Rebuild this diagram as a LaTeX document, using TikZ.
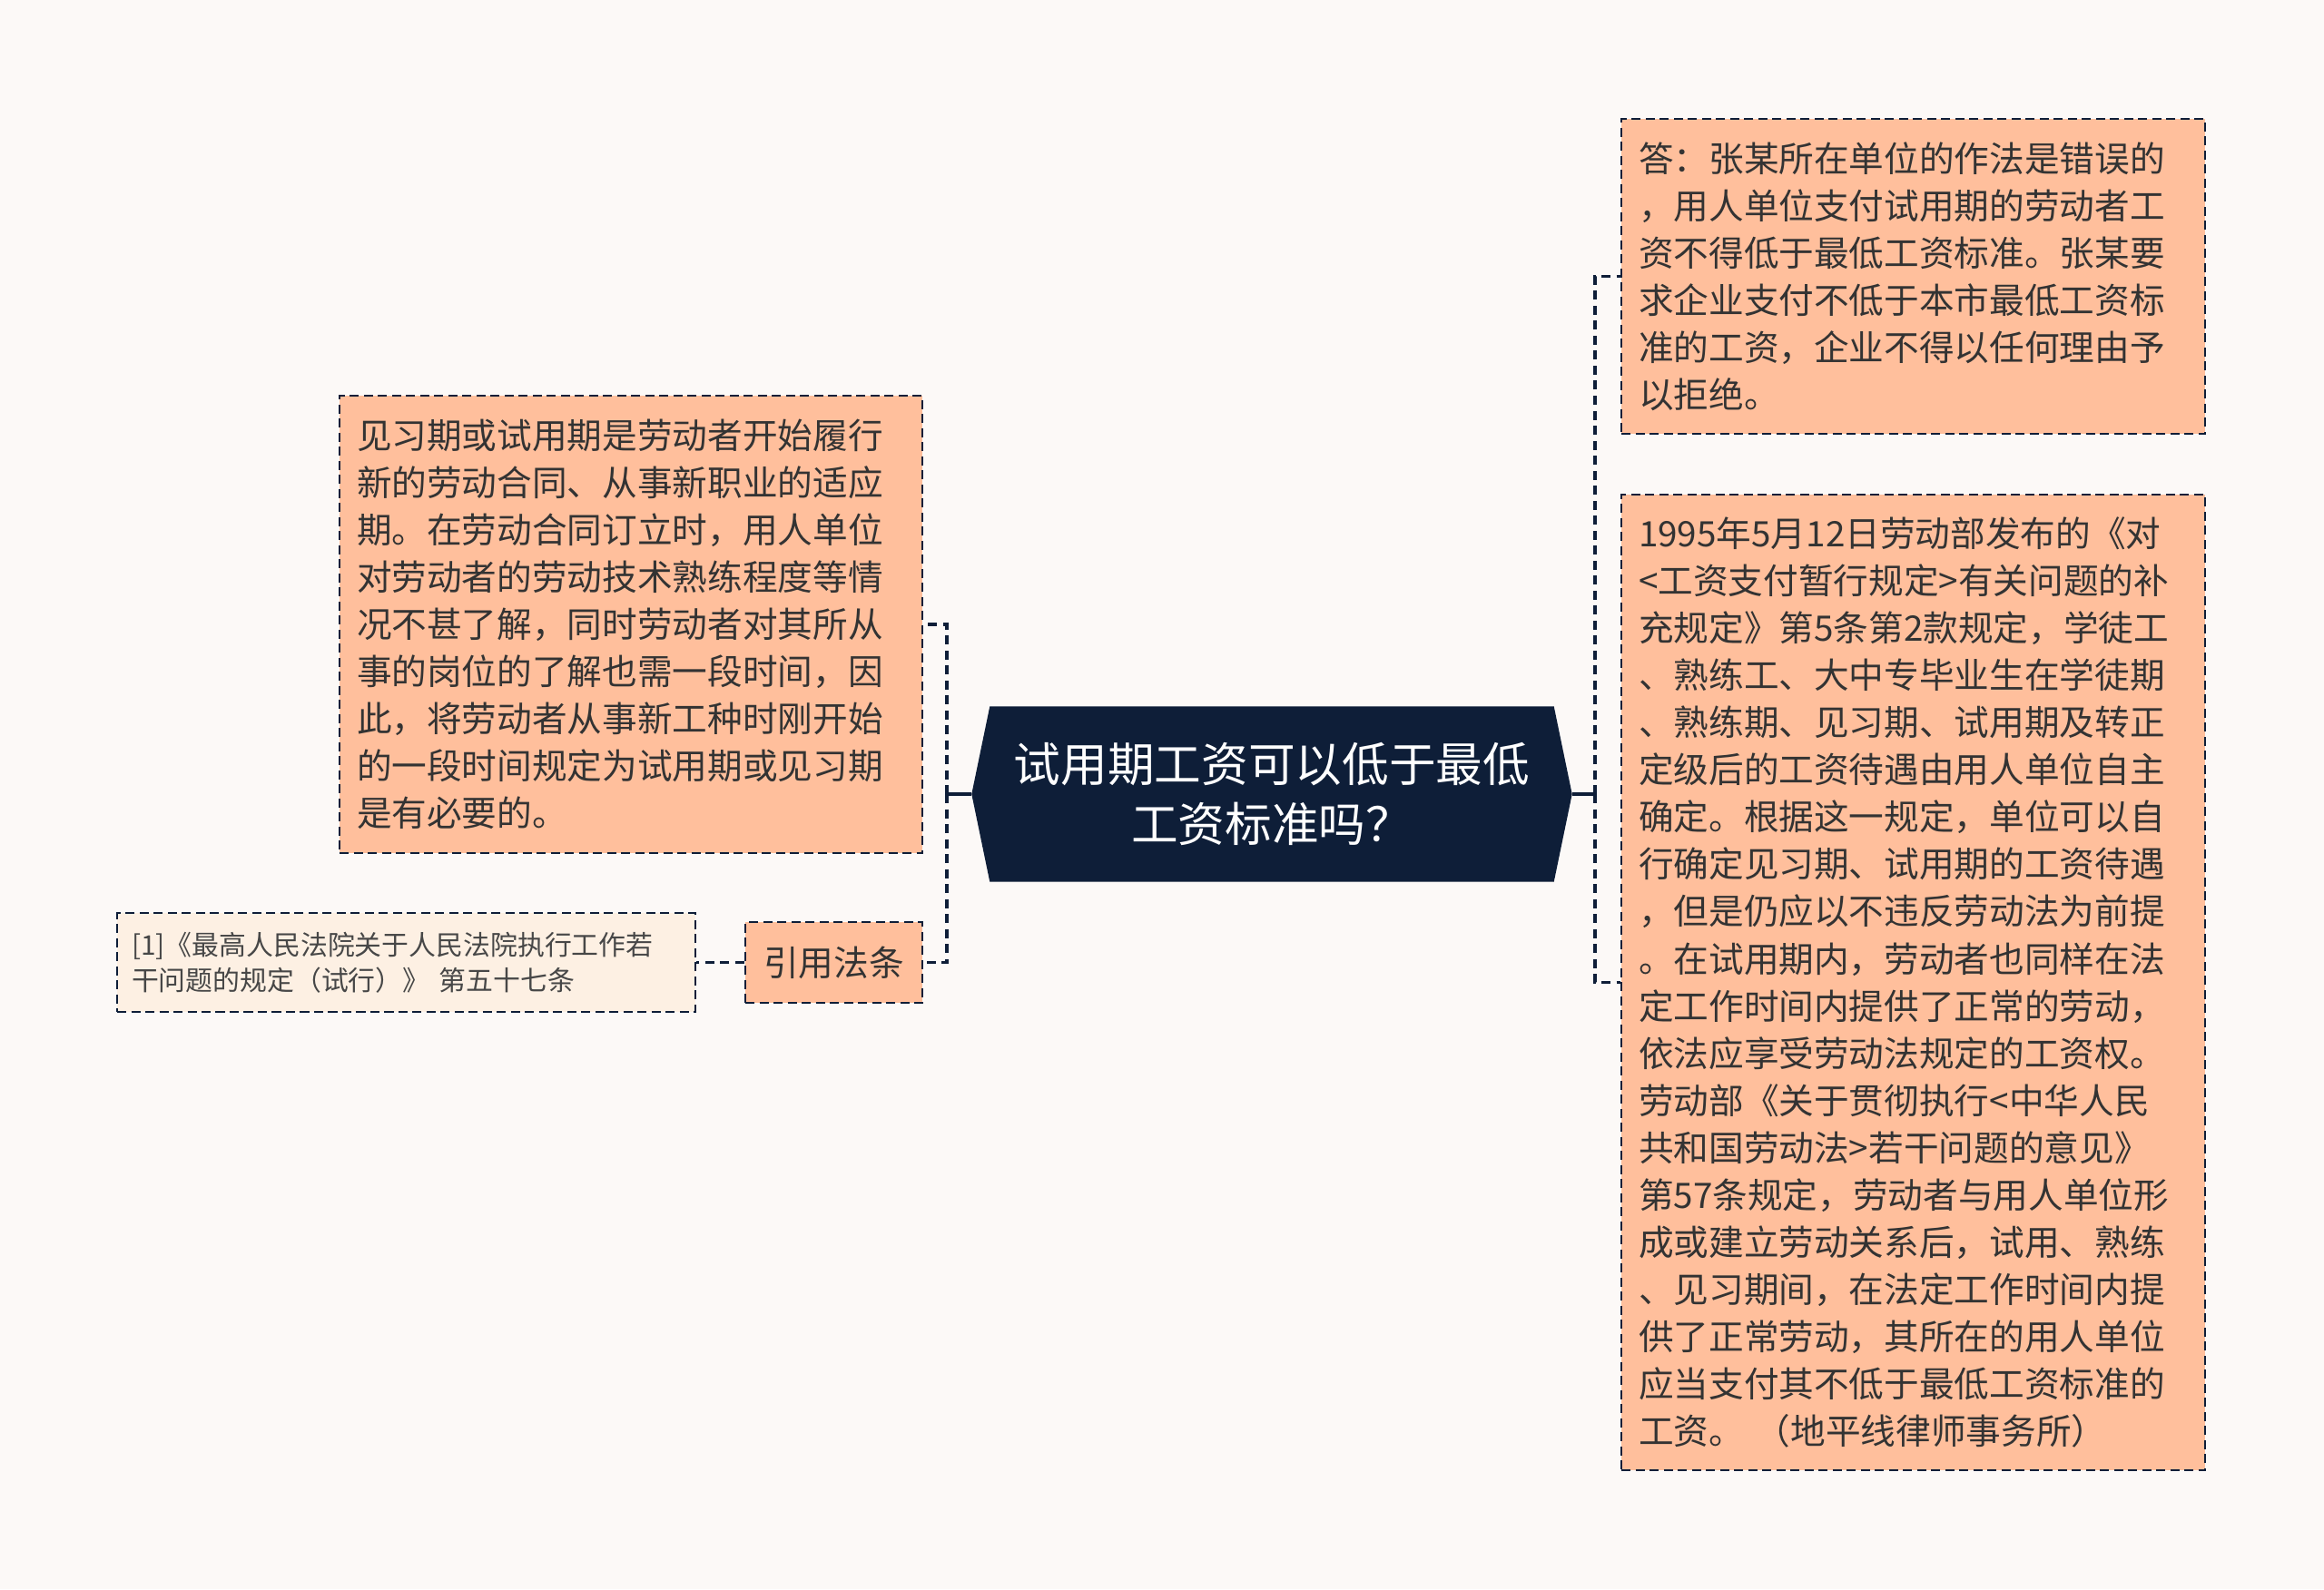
\documentclass[tikz,border=0pt]{standalone}
\usepackage{fontspec}
\setmainfont{Noto Sans CJK SC}
\usetikzlibrary{backgrounds}
\definecolor{bgpaper}{HTML}{FCF9F7}
\definecolor{peach}{HTML}{FFBF9C}
\definecolor{cream}{HTML}{FDF0E3}
\definecolor{navy}{HTML}{0E1E38}
\definecolor{inkgray}{HTML}{333333}

\begin{document}
\begin{tikzpicture}[
  box/.style={rectangle, draw=navy, fill=peach, dash pattern=on 0.1cm off 0.055cm, line width=0.6pt, text=inkgray, align=left, inner xsep=0.19cm, inner ysep=0pt, font=\fontsize{11}{14.8}\selectfont},
  link/.style={navy, line width=1.1pt, dash pattern=on 0.1cm off 0.065cm},
  stub/.style={navy, line width=1.1pt},
]
  \useasboundingbox (0,0) rectangle (25.6,-17.51);
  % central topic
  \node[text=white, align=center, minimum width=6.2cm, minimum height=1.92cm, font=\fontsize{14.7}{19}\selectfont] (topic) at (14.01,-8.75) {试用期工资可以低于最低\\工资标准吗？};
  % left side
  \node[box, text width=6.04cm, minimum height=5.04cm] (intro) at (6.95,-6.88) {见习期或试用期是劳动者开始履行\\新的劳动合同、从事新职业的适应\\期。在劳动合同订立时，用人单位\\对劳动者的劳动技术熟练程度等情\\况不甚了解，同时劳动者对其所从\\事的岗位的了解也需一段时间，因\\此，将劳动者从事新工种时刚开始\\的一段时间规定为试用期或见习期\\是有必要的。};
  \node[box, align=center, inner xsep=0pt, minimum width=1.95cm, minimum height=0.89cm] (cite) at (9.185,-10.605) {引用法条};
  \node[box, fill=cream, text=inkgray!90, text width=6.05cm, inner xsep=0.16cm, minimum height=1.09cm, font=\fontsize{8.5}{11}\selectfont, left of=cite, node distance=47.1mm] (law) {[1]《最高人民法院关于人民法院执行工作若\\干问题的规定（试行）》 第五十七条};
  % right side
  \node[box, text width=6.05cm, minimum height=3.47cm] (answer) at (21.075,-3.045) {答：张某所在单位的作法是错误的\\，用人单位支付试用期的劳动者工\\资不得低于最低工资标准。张某要\\求企业支付不低于本市最低工资标\\准的工资，企业不得以任何理由予\\以拒绝。};
  \node[box, text width=6.05cm, minimum height=10.75cm] (rule) at (21.075,-10.825) {1995年5月12日劳动部发布的《对\\<工资支付暂行规定>有关问题的补\\充规定》第5条第2款规定，学徒工\\、熟练工、大中专毕业生在学徒期\\、熟练期、见习期、试用期及转正\\定级后的工资待遇由用人单位自主\\确定。根据这一规定，单位可以自\\行确定见习期、试用期的工资待遇\\，但是仍应以不违反劳动法为前提\\。在试用期内，劳动者也同样在法\\定工作时间内提供了正常的劳动，\\依法应享受劳动法规定的工资权。\\劳动部《关于贯彻执行<中华人民\\共和国劳动法>若干问题的意见》\\第57条规定，劳动者与用人单位形\\成或建立劳动关系后，试用、熟练\\、见习期间，在法定工作时间内提\\供了正常劳动，其所在的用人单位\\应当支付其不低于最低工资标准的\\工资。 （地平线律师事务所）};
  % connectors
  \coordinate (ltrunk) at (10.43,-8.75);
  \coordinate (rtrunk) at (17.57,-8.75);
  \draw[stub] ([xshift=-2mm]topic.west) -- (ltrunk);
  \draw[link] (ltrunk) |- (intro.east);
  \draw[link] (ltrunk) |- (cite.east);
  \draw[link] (cite.west) -- (law.east);
  \draw[stub] ([xshift=2mm]topic.east) -- (rtrunk);
  \draw[link] (rtrunk) |- (answer.west);
  \draw[link] (rtrunk) |- (rule.west);
  \begin{scope}[on background layer]
    \fill[bgpaper] (0,0) rectangle (25.6,-17.51);
    \fill[navy] ([xshift=-2mm]topic.west) -- (topic.north west) -- (topic.north east) -- ([xshift=2mm]topic.east) -- (topic.south east) -- (topic.south west) -- cycle;
  \end{scope}
\end{tikzpicture}
\end{document}
